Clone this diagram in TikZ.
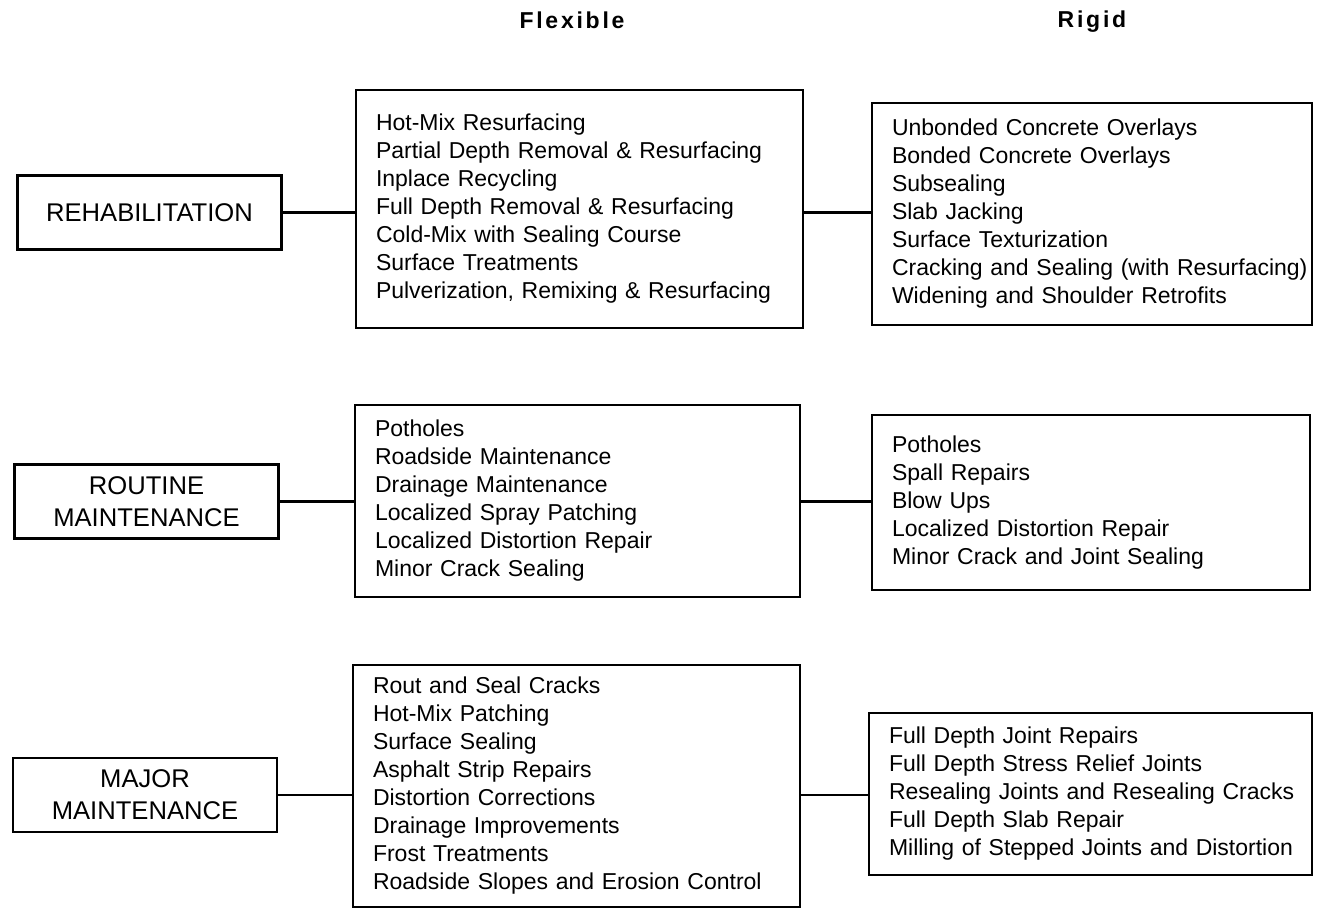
\documentclass[tikz,border=0pt]{standalone}
\usepackage{fontspec}
\setmainfont{Liberation Sans}
\usetikzlibrary{positioning,calc}

\begin{document}
\begin{tikzpicture}[x=0.5pt,y=-0.5pt,
  head/.style={font=\fontsize{11.5}{14}\selectfont\bfseries\addfontfeatures{LetterSpace=12}},
  kind/.style={draw,line width=1.4pt,align=center,inner sep=0pt,
    font=\fontsize{12.8}{16}\selectfont,minimum width=132pt,minimum height=37pt},
  list/.style 2 args={draw,line width=1.4pt,align=left,inner xsep=0pt,inner ysep=0pt,
    font=\fontsize{11.5}{14}\selectfont,text width=#1,minimum height=#2,
    execute at begin node={\leftskip=10pt}},
  link/.style={line width=1.4pt}]
  \useasboundingbox (0,0) rectangle (1319,913);
  % column heads
  \node[head] (flex) at (572,20) {Flexible};
  \node[head] (rigid) at (1092,22) {Rigid};
  % kinds of work
  \node[kind] (rehab) at (149.5,212.5) {REHABILITATION};
  \node[kind] (routine) at (146.5,501.5) {ROUTINE\\MAINTENANCE};
  \node[kind] (major) at (145,795) {MAJOR\\MAINTENANCE};
  % rehabilitation
  \node[list={223.5pt}{119pt}] (flexR) at (579.5,209) {Hot-Mix Resurfacing\\
    Partial Depth Removal \& Resurfacing\\Inplace Recycling\\
    Full Depth Removal \& Resurfacing\\Cold-Mix with Sealing Course\\
    Surface Treatments\\Pulverization, Remixing \& Resurfacing};
  \node[list={220pt}{111pt}] (rigidR) at (1092,214) {Unbonded Concrete Overlays\\
    Bonded Concrete Overlays\\Subsealing\\Slab Jacking\\Surface Texturization\\
    Cracking and Sealing (with Resurfacing)\\Widening and Shoulder Retrofits};
  % routine maintenance
  \node[list={222.5pt}{96pt}] (flexT) at (577.5,501) {Potholes\\Roadside Maintenance\\
    Drainage Maintenance\\Localized Spray Patching\\Localized Distortion Repair\\
    Minor Crack Sealing};
  \node[list={219pt}{87.5pt}] (rigidT) at (1091,502.5) {Potholes\\Spall Repairs\\Blow Ups\\
    Localized Distortion Repair\\Minor Crack and Joint Sealing};
  % major maintenance
  \node[list={223.5pt}{121pt}] (flexM) at (576.5,786) {Rout and Seal Cracks\\
    Hot-Mix Patching\\Surface Sealing\\Asphalt Strip Repairs\\Distortion Corrections\\
    Drainage Improvements\\Frost Treatments\\Roadside Slopes and Erosion Control};
  \node[list={221.5pt}{81pt}] (rigidM) at (1090.5,794) {Full Depth Joint Repairs\\
    Full Depth Stress Relief Joints\\Resealing Joints and Resealing Cracks\\
    Full Depth Slab Repair\\Milling of Stepped Joints and Distortion};
  % connectors
  \draw[link] (rehab.east) -- (rehab.east -| flexR.west);
  \draw[link] (flexR.east |- rehab.east) -- (rigidR.west |- rehab.east);
  \draw[link] (routine.east) -- (routine.east -| flexT.west);
  \draw[link] (flexT.east |- routine.east) -- (rigidT.west |- routine.east);
  \draw[link] (major.east) -- (major.east -| flexM.west);
  \draw[link] (flexM.east |- major.east) -- (rigidM.west |- major.east);
\end{tikzpicture}
\end{document}
